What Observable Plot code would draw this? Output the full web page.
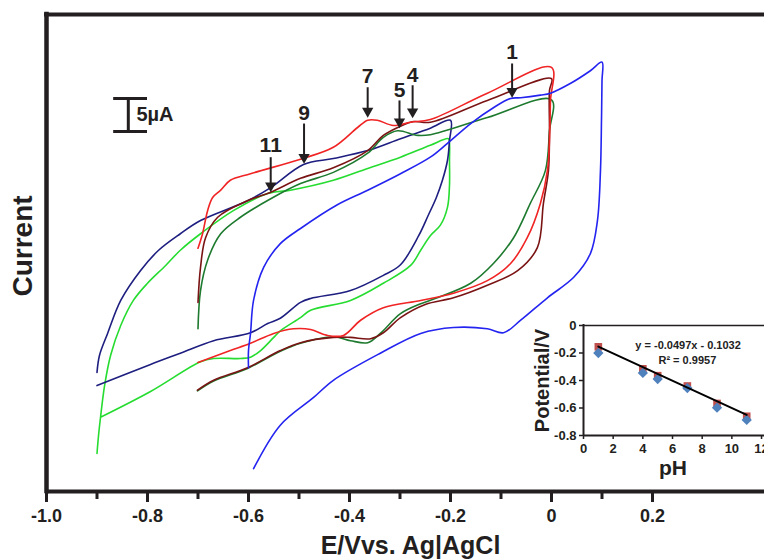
<!DOCTYPE html>
<html><head><meta charset="utf-8">
<script src="https://cdn.jsdelivr.net/npm/d3@7"></script>
<script src="https://cdn.jsdelivr.net/npm/@observablehq/plot@0.6"></script>
<style>
html,body{margin:0;padding:0;background:#fff;overflow:hidden;}
#wrap{position:relative;width:764px;height:560px;overflow:hidden;}
#inset{position:absolute;left:520px;top:310px;}
</style></head><body><div id="wrap"><div id="main"></div><div id="inset"></div></div>
<script>
// ---- Cyclic voltammograms: potential E (V vs Ag|AgCl) and current I (µA, arbitrary zero) ----
const ph1E = [-0.600,-0.600,-0.596,-0.590,-0.570,-0.537,-0.497,-0.424,-0.364,-0.299,-0.240,-0.206,-0.160,-0.115,-0.081,-0.061,-0.022,-0.002,0.038,0.077,0.100,0.100,0.099,0.097,0.091,0.077,0.044,-0.008,-0.061,-0.095,-0.127,-0.194,-0.259,-0.339,-0.432,-0.471,-0.537,-0.590];
const ph1I = [-16.1,-13.5,-10.9,-5.9,-0.9,2.7,5.0,8.6,10.8,13.3,15.8,17.9,20.9,23.3,24.7,24.8,25.2,25.5,27.0,28.9,30.2,27.4,21.4,13.8,6.2,1.2,-2.4,-5.5,-8.9,-10.8,-10.2,-10.0,-10.9,-13.9,-18.0,-20.6,-24.8,-31.4];

const ph4E = [-0.700,-0.695,-0.685,-0.661,-0.602,-0.556,-0.497,-0.432,-0.364,-0.333,-0.299,-0.273,-0.240,-0.127,0.000,-0.004,-0.004,-0.006,-0.016,-0.028,-0.067,-0.127,-0.194,-0.250,-0.299,-0.333,-0.358,-0.398,-0.432,-0.497,-0.537,-0.602,-0.669,-0.701];
const ph4I = [-6.2,-0.9,3.6,6.7,9.2,10.5,12.6,14.2,16.8,19.1,20.5,21.2,21.1,24.4,27.7,25.9,19.8,13.8,8.8,2.1,-1.4,-3.6,-5.5,-6.5,-8.5,-10.8,-11.7,-11.5,-11.5,-12.3,-13.5,-16.1,-18.0,-19.5];

const ph5E = [-0.700,-0.695,-0.681,-0.655,-0.616,-0.556,-0.497,-0.432,-0.364,-0.333,-0.305,-0.265,-0.240,-0.127,0.000,-0.004,-0.012,-0.042,-0.075,-0.115,-0.160,-0.226,-0.259,-0.299,-0.339,-0.364,-0.398,-0.432,-0.497,-0.537,-0.602,-0.669,-0.701];
const ph5I = [-10.2,-4.4,0.2,4.2,6.7,9.5,11.8,13.5,16.4,18.8,19.8,19.1,19.2,21.8,24.5,19.8,13.8,8.8,3.6,-0.3,-3.3,-5.5,-6.4,-7.9,-10.9,-12.3,-12.0,-11.4,-12.4,-13.6,-16.2,-18.1,-19.6];

const ph7E = [-0.700,-0.691,-0.681,-0.671,-0.655,-0.636,-0.596,-0.497,-0.432,-0.384,-0.364,-0.345,-0.313,-0.279,-0.240,-0.127,0.000,-0.002,-0.004,-0.008,-0.022,-0.048,-0.081,-0.127,-0.194,-0.259,-0.333,-0.378,-0.412,-0.444,-0.477,-0.511,-0.550,-0.596,-0.636,-0.700];
const ph7I = [2.0,4.2,7.7,9.7,10.8,12.3,13.3,15.5,17.3,20.3,21.4,21.4,20.6,21.1,21.5,25.5,29.4,24.4,18.3,13.8,8.8,3.6,-0.3,-2.9,-4.8,-5.9,-7.0,-8.9,-11.2,-11.2,-10.3,-10.2,-10.9,-12.4,-13.5,-15.3];

const ph9E = [-0.900,-0.895,-0.879,-0.853,-0.814,-0.778,-0.735,-0.695,-0.602,-0.556,-0.491,-0.432,-0.364,-0.299,-0.240,-0.200,-0.202,-0.206,-0.216,-0.228,-0.244,-0.263,-0.299,-0.333,-0.398,-0.477,-0.497,-0.537,-0.562,-0.596,-0.669,-0.735,-0.794,-0.900];
const ph9I = [-16.8,-14.2,-10.9,-5.9,-1.4,1.7,4.2,6.2,9.2,11.2,14.7,15.6,16.8,18.6,20.2,21.4,18.3,15.3,12.3,9.7,7.0,3.9,-0.5,-2.1,-4.4,-5.6,-6.2,-8.6,-9.4,-10.8,-12.0,-13.9,-15.6,-18.8];

const ph11E = [-0.900,-0.897,-0.893,-0.885,-0.873,-0.853,-0.828,-0.800,-0.764,-0.735,-0.695,-0.630,-0.562,-0.517,-0.432,-0.364,-0.299,-0.240,-0.204,-0.202,-0.202,-0.202,-0.206,-0.220,-0.240,-0.259,-0.279,-0.333,-0.398,-0.477,-0.497,-0.537,-0.550,-0.576,-0.596,-0.616,-0.669,-0.695,-0.794,-0.893];
const ph11I = [-29.1,-26.4,-23.6,-18.8,-14.2,-9.7,-5.9,-3.3,-0.6,1.7,4.2,7.7,10.3,10.8,12.3,14.1,15.8,17.6,18.6,17.9,15.3,11.5,8.2,5.5,3.9,1.7,-0.6,-3.3,-5.9,-7.4,-8.5,-10.5,-11.5,-13.5,-14.5,-14.7,-14.7,-15.2,-19.7,-23.6];

const seriesNames  = ["pH 11","pH 9","pH 5","pH 4","pH 7","pH 1"];
const seriesColors = ["#26dc30","#1e1e80","#1d7a2e","#7a1414","#f02424","#2424f0"];

// peak annotations
const arrowLabels = ["1","4","5","7","9","11"];
const arrowE      = [-0.078,-0.275,-0.301,-0.364,-0.490,-0.556];
const arrowTextI  = [31.7,28.2,25.9,28.0,22.4,17.6];
const arrowTailI  = [30.0,26.7,24.4,26.4,20.9,15.8];
const arrowTipI   = [24.8,21.7,20.2,21.8,14.8,10.5];

// 5 µA scale bar
const scaleBarE  = [-0.867,-0.800];
const scaleBarMidE = -0.838;
const scaleBarI  = [19.7,24.7];
const scaleBarLabel = "5µA";
const scaleBarLabelPos = [-0.822, 22.2];

// axis ticks
const xMajor = [-1.0,-0.8,-0.6,-0.4,-0.2,0,0.2];
const xMinor = [-0.9,-0.7,-0.5,-0.3,-0.1,0.1];
const xDomain = [-1.0, 0.4218];
const yDomain = [-34.85, 37.42];

// ---- inset: peak potential vs pH ----
const pH = [1,4,5,7,9,11];
const potA = [-0.155,-0.315,-0.365,-0.440,-0.567,-0.660];
const potB = [-0.200,-0.345,-0.390,-0.455,-0.598,-0.687];
const fitPH = [1,11];
const fitPot = [-0.153,-0.650];
const insetXTicks = [0,2,4,6,8,10,12];
const insetYTicks = [0,-0.2,-0.4,-0.6,-0.8];
const eqText = ["y = -0.0497x - 0.1032","R\u00b2 = 0.9957"];
const eqX = [7.05,7.0];
const eqY = [-0.145,-0.255];

const ink = "#231f20";
const font = "'Liberation Sans', Arial, Helvetica, sans-serif";
const fmt = d => d === 0 ? "0" : d.toFixed(1);

const allE = [ph11E, ph9E, ph5E, ph4E, ph7E, ph1E];
const allI = [ph11I, ph9I, ph5I, ph4I, ph7I, ph1I];
const curveMarks = seriesNames.map((name, k) =>
  Plot.line(allE[k].map((e, i) => ({E: e, I: allI[k][i], series: name})),
    {x: "E", y: "I", stroke: seriesColors[k], strokeWidth: 1.6, curve: "catmull-rom"}));

const arrows = arrowLabels.map((l, i) => ({label: l, E: arrowE[i], text: arrowTextI[i], tail: arrowTailI[i], tip: arrowTipI[i]}));

const main = Plot.plot({
  width: 764, height: 560,
  marginLeft: 46, marginRight: 0, marginTop: 14, marginBottom: 69,
  x: {domain: xDomain, axis: null},
  y: {domain: yDomain, axis: null},
  style: {fontFamily: font, fontWeight: "bold", fontSize: "18px", color: ink, background: "transparent"},
  marks: [
    ...curveMarks,
    Plot.axisX(xMajor, {tickSize: 11, tickPadding: 7, strokeWidth: 3, tickFormat: fmt, label: null, fontSize: 18, fontWeight: "bold"}),
    Plot.axisX(xMinor, {tickSize: 8, strokeWidth: 3, tickFormat: () => "", label: null}),
    Plot.ruleX([xDomain[0]], {stroke: ink, strokeWidth: 4.5, strokeLinecap: "square"}),
    Plot.ruleY([yDomain[1]], {stroke: ink, strokeWidth: 4, strokeLinecap: "square"}),
    Plot.ruleY([yDomain[0]], {stroke: ink, strokeWidth: 4}),
    // scale bar
    Plot.ruleY(scaleBarI, {x1: scaleBarE[0], x2: scaleBarE[1], stroke: ink, strokeWidth: 3}),
    Plot.ruleX([scaleBarMidE], {y1: scaleBarI[0], y2: scaleBarI[1], stroke: ink, strokeWidth: 3}),
    Plot.text([scaleBarLabel], {x: scaleBarLabelPos[0], y: scaleBarLabelPos[1], textAnchor: "start", fontSize: 20, fontWeight: "bold", fill: ink}),
    // peak arrows
    Plot.link(arrows, {x1: "E", x2: "E", y1: "tail", y2: d => d.tip + 1.2, stroke: ink, strokeWidth: 2}),
    Plot.dot(arrows, {x: "E", y: "tip", symbol: "triangle", rotate: 180, r: 4.2, fill: ink, stroke: "none", dy: -6.5}),
    Plot.text(arrows, {x: "E", y: "text", text: "label", fontSize: 21, fontWeight: "bold", fill: ink}),
    // axis titles
    Plot.text(["E/Vvs. Ag|AgCl"], {frameAnchor: "bottom", textAnchor: "middle", lineAnchor: "middle", dx: 5, dy: 54, fontSize: 25, fontWeight: "bold", fill: ink}),
    Plot.text(["Current"], {frameAnchor: "left", textAnchor: "middle", lineAnchor: "middle", dx: -23, dy: -7, rotate: -90, fontSize: 28, fontWeight: "bold", fill: ink})
  ]
});
document.getElementById("main").appendChild(main);

const inset = Plot.plot({
  width: 244, height: 175,
  marginLeft: 63, marginRight: 0, marginTop: 15, marginBottom: 50,
  x: {domain: [0, 12.2], axis: null},
  y: {domain: [-0.8, 0], axis: null},
  style: {fontFamily: font, fontWeight: "bold", fontSize: "13px", color: ink, background: "transparent"},
  marks: [
    Plot.frame({fill: "white", stroke: "none"}),
    Plot.axisY(insetYTicks, {tickSize: 4, tickPadding: 3, strokeWidth: 1.5, tickFormat: fmt, label: null, fontSize: 13, fontWeight: "bold"}),
    Plot.axisX(insetXTicks, {tickSize: 4, tickPadding: 4, strokeWidth: 1.5, label: null, fontSize: 13, fontWeight: "bold"}),
    Plot.ruleX([0], {stroke: ink, strokeWidth: 2, strokeLinecap: "square"}),
    Plot.ruleY([0], {stroke: ink, strokeWidth: 1.5}),
    Plot.ruleY([-0.8], {stroke: ink, strokeWidth: 2}),
    Plot.dot(pH.map((p, i) => ({pH: p, V: potA[i]})), {x: "pH", y: "V", symbol: "square", r: 4.3, fill: "#c0504d", stroke: "none"}),
    Plot.dot(pH.map((p, i) => ({pH: p, V: potB[i]})), {x: "pH", y: "V", symbol: "square", rotate: 45, r: 4.1, fill: "#4f81bd", stroke: "none"}),
    Plot.line(fitPH.map((p, i) => ({pH: p, V: fitPot[i]})), {x: "pH", y: "V", stroke: "#000", strokeWidth: 2}),
    Plot.text(eqText.map((t, i) => ({t, x: eqX[i], y: eqY[i]})), {x: "x", y: "y", text: "t", fontSize: 11, fontWeight: "bold", fill: "#222"}),
    Plot.text(["pH"], {frameAnchor: "bottom", textAnchor: "middle", lineAnchor: "middle", dx: -1, dy: 33, fontSize: 21, fontWeight: "bold", fill: ink}),
    Plot.text(["Potential/V"], {frameAnchor: "left", textAnchor: "middle", lineAnchor: "middle", dx: -41, rotate: -90, fontSize: 20, fontWeight: "bold", fill: ink})
  ]
});
document.getElementById("inset").appendChild(inset);
</script></body></html>
